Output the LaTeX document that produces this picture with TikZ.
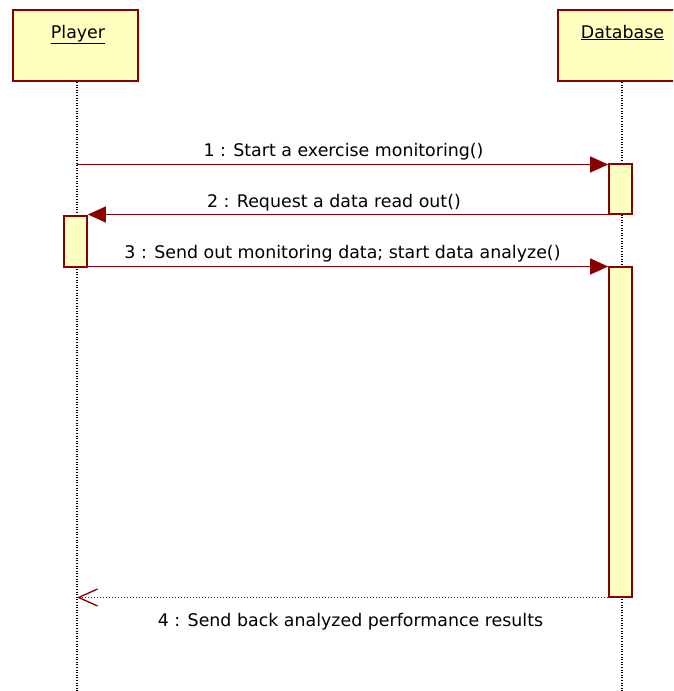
\documentclass[tikz,border=0pt]{standalone}
\usepackage{fontspec}
\setmainfont{DejaVu Sans}
\usetikzlibrary{arrows.meta}
\definecolor{umlred}{HTML}{880000}
\definecolor{umlfill}{HTML}{FFFFC0}
\begin{document}
\begin{tikzpicture}[x=1pt,y=-1pt,
  objbox/.style={draw=umlred,fill=umlfill,line width=2pt,minimum width=125pt,minimum height=71pt,inner sep=0pt},
  actbox/.style={draw=umlred,fill=umlfill,line width=1.8pt,minimum width=23pt,inner sep=0pt},
  lifeline/.style={black,line width=1.2pt,dash pattern=on 1pt off 1.6pt},
  callmsg/.style={draw=umlred,line width=1.5pt,-{Triangle[length=18pt,width=16pt]}},
  retmsg/.style={draw=umlred,line width=1.2pt,dash pattern=on 1.5pt off 1.5pt,-{Straight Barb[length=19pt,width=17pt,line width=1.3pt]}},
  msglabel/.style={font=\fontsize{17.4}{20}\selectfont,inner sep=0pt}]
\useasboundingbox (0,0) rectangle (673,691);
\begin{scope}
\clip (0,0) rectangle (673,691);
% object heads
\node[objbox] (player) at (75.5,45.5) {};
\node[msglabel,anchor=base] at (78,38) {\underline{Player}};
\node[objbox] (db) at (620.5,45.5) {};
\node[msglabel,anchor=base] at (622.5,38) {\underline{Database}};
% lifelines
\coordinate (pend) at (77,691);
\coordinate (dend) at (622,691);
\draw[lifeline] (player.south -| pend) -- (pend);
\draw[lifeline] (db.south -| dend) -- (dend);
% activations
\node[actbox,minimum height=50pt] (dba1) at (620.5,189) {};
\node[actbox,minimum height=51pt] (pa1) at (75.5,241.5) {};
\node[actbox,minimum height=330pt] (dba2) at (620.5,432) {};
% messages
\coordinate (m1s) at (77,164.5);
\coordinate (m2s) at (dba1.west |- 0,214.5);
\coordinate (m3s) at (pa1.east |- 0,266.5);
\coordinate (m4s) at (dba2.west |- 0,597.5);
\coordinate (m4e) at (77,597.5);
\draw[callmsg] (m1s) -- (m1s -| dba1.west);
\node[msglabel,anchor=base] at (343.5,156) {1 : Start a exercise monitoring()};
\draw[callmsg] (m2s) -- (m2s -| pa1.east);
\node[msglabel,anchor=base] at (334,207) {2 : Request a data read out()};
\draw[callmsg] (m3s) -- (m3s -| dba2.west);
\node[msglabel,anchor=base] at (342.5,258) {3 : Send out monitoring data; start data analyze()};
\draw[retmsg] (m4s) -- (m4e);
\node[msglabel,anchor=base] at (350.5,626) {4 : Send back analyzed performance results};
\end{scope}
\end{tikzpicture}
\end{document}
